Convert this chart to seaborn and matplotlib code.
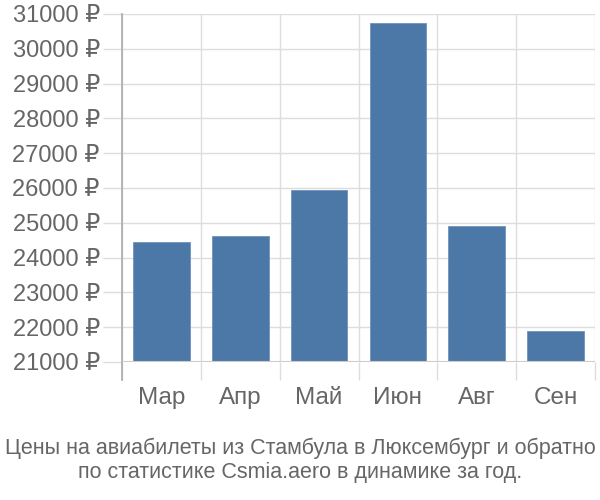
import matplotlib
matplotlib.use("Agg")
import matplotlib.pyplot as plt
import seaborn as sns
import pandas as pd
import numpy as np

months = ["Мар", "Апр", "Май", "Июн", "Авг", "Сен"]
prices = [24450, 24610, 25940, 30740, 24900, 21900]
yticks = list(range(21000, 31001, 1000))
caption = "Цены на авиабилеты из Стамбула в Люксембург и обратно\nпо статистике Csmia.aero в динамике за год."

sns.set_style("white")
plt.rcParams['font.family'] = ['Liberation Sans', 'DejaVu Sans']

df = pd.DataFrame({"month": months, "price": prices})

fig = plt.figure(figsize=(6, 5), dpi=100)
ax = fig.add_axes([122/600, 1-362/500, (595-122)/600, (362-14)/500])

sns.barplot(data=df, x="month", y="price", color="#4C78A8", saturation=1,
            width=0.72, ax=ax, zorder=3, edgecolor="#6f93bd", linewidth=0.6)

ax.set_ylim(21000, 31000)
ax.set_yticks(yticks)
ax.set_yticklabels([f"{v} ₽" for v in yticks])
ax.set_xlabel("")
ax.set_ylabel("")

n = len(months)
ax.set_xlim(-0.5, n - 0.5)
ax.set_xticks(np.arange(n))
ax.set_xticks(np.arange(n + 1) - 0.5, minor=True)

for s in ["top", "right", "bottom"]:
    ax.spines[s].set_visible(False)
ax.spines["left"].set_color("#aaaaaa")
ax.spines["left"].set_linewidth(1.2)
ax.spines["left"].set_bounds(21000 - 18/34.8*1000, 31000)

ax.grid(axis="y", color="#dddddd", linewidth=1, zorder=0)
ax.grid(axis="x", which="minor", color="#dddddd", linewidth=1, zorder=0)
ax.grid(axis="x", which="major", visible=False)
ax.axhline(21000, color="#cccccc", linewidth=1.5, zorder=4)

ax.tick_params(axis="y", left=True, length=14, color="#dddddd", width=1, pad=2,
               labelsize=17, labelcolor="#666666")
ax.tick_params(axis="x", which="major", bottom=False, length=0, pad=18,
               labelsize=17.5, labelcolor="#666666")
ax.tick_params(axis="x", which="minor", bottom=True, length=13, color="#dddddd", width=1)

fig.text(0.5, 1 - 460/500, caption, ha="center", va="center",
         fontsize=15.5, color="#666666", linespacing=1.2)

fig.savefig("out.png", dpi=100)
